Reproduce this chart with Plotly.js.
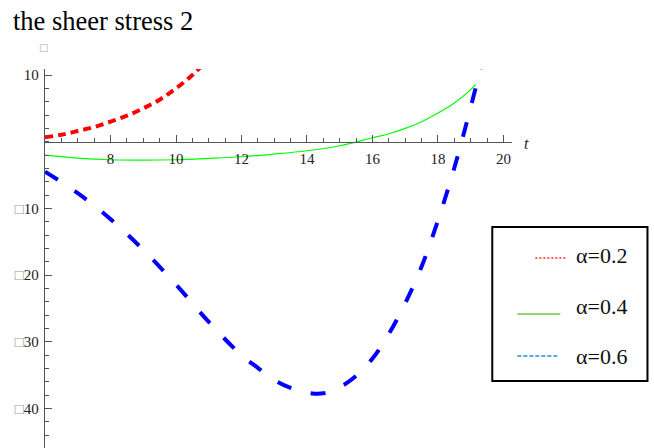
<!DOCTYPE html>
<html>
<head>
<meta charset="utf-8">
<script src="https://cdn.plot.ly/plotly-3.0.1.min.js"></script>
<style>html,body{margin:0;padding:0;background:#fff;}#chart{width:654px;height:448px;}</style>
</head>
<body>
<div id="chart"></div>
<script>
// ---- data ----
const seriesNames = ["α=0.2", "α=0.4", "α=0.6"];

const tRed = [6, 6.5, 7, 7.5, 8, 8.5, 9, 9.5, 10, 10.5, 11];
const yRed = [0.65, 1.05, 1.6, 2.2, 3.0, 3.9, 5.0, 6.3, 8.0, 10.0, 12.5];

const tGreen = [6, 7, 8, 9, 10, 11, 12, 13, 14, 15, 16, 16.5, 17, 17.5, 18, 18.5, 19, 19.15];
const yGreen = [-2.0, -2.45, -2.7, -2.77, -2.7, -2.5, -2.25, -1.85, -1.35, -0.6, 0.6, 1.2, 2.0, 3.0, 4.3, 5.8, 7.8, 8.6];

const tBlue = [6, 7, 8, 9, 10, 11, 12, 12.5, 13, 13.5, 14, 14.5, 15, 15.5, 16, 16.5, 17, 17.5, 18, 18.5, 19, 19.35];
const yBlue = [-4.5, -7.7, -11.6, -16.2, -21.4, -27.0, -32.0, -33.9, -35.7, -36.9, -37.6, -37.7, -36.8, -35.1, -32.5, -28.8, -24.2, -18.7, -11.8, -3.9, 5.2, 12.0];

const xTickVals = [8, 10, 12, 14, 16, 18, 20];
const xTickText = ["8", "10", "12", "14", "16", "18", "20"];
const yTickVals = [10, -10, -20, -30, -40];
const yTickText = ["10", "<span style='color:#999'>□</span>10", "<span style='color:#999'>□</span>20", "<span style='color:#999'>□</span>30", "<span style='color:#999'>□</span>40"];

// ---- layout geometry ----
const W = 654, H = 448;
const L = 45.3, R = 511.7, T = 69, B = 448;
const xRange = [6, 20.26];
const yRange = [-45.9, 10.9];
const px = x => (x - L) / (R - L);
const py = y => (B - y) / (B - T);

const serif = "Liberation Serif";
const axisCol = "#555555";

const traces = [
  {x: tRed, y: yRed, name: seriesNames[0], mode: "lines", line: {color: "#ff0000", width: 4, dash: "8px,5px", shape: "spline"}, showlegend: false},
  {x: tGreen, y: yGreen, name: seriesNames[1], mode: "lines", line: {color: "#00ff00", width: 1.2, shape: "spline"}, showlegend: false},
  {x: tBlue, y: yBlue, name: seriesNames[2], mode: "lines", line: {color: "#0000ff", width: 4, dash: "15px,20px", shape: "spline"}, showlegend: false}
];

const legendSamples = [
  {x0: 535, x1: 567, y: 258, color: "#ff2020", dash: "2px,2px", width: 1.3},
  {x0: 517, x1: 560, y: 314, color: "#70c838", dash: "solid", width: 1.3},
  {x0: 517, x1: 557, y: 356, color: "#2a88d8", dash: "4px,2px", width: 1.3}
];
const legendTextY = [255, 306, 356];

const shapes = [
  {type: "rect", xref: "paper", yref: "paper", x0: px(492), x1: px(647), y0: py(227), y1: py(381),
   line: {color: "#000", width: 2}, fillcolor: "rgba(255,255,255,1)", layer: "above"}
];
legendSamples.forEach(s => shapes.push({type: "line", xref: "paper", yref: "paper",
  x0: px(s.x0), x1: px(s.x1), y0: py(s.y), y1: py(s.y), line: {color: s.color, width: s.width, dash: s.dash}, layer: "above"}));

const annotations = seriesNames.map((n, i) => ({
  text: n, xref: "paper", yref: "paper", x: px(574), y: py(legendTextY[i]), xanchor: "left", yanchor: "middle",
  showarrow: false, font: {family: serif, size: 22, color: "#111"}
}));
annotations.push({text: "t", xref: "paper", yref: "paper", x: px(522), y: py(143), xanchor: "left", yanchor: "middle",
  showarrow: false, font: {family: serif, size: 16, color: "#222", style: "italic"}});
annotations.push({text: "□", xref: "paper", yref: "paper", x: px(44), y: py(47), xanchor: "center", yanchor: "middle",
  showarrow: false, font: {family: "DejaVu Sans", size: 10, color: "#aaa"}});

const layout = {
  width: W, height: H,
  margin: {l: L, r: W - R, t: T, b: H - B, pad: 0},
  paper_bgcolor: "#fff", plot_bgcolor: "#fff",
  showlegend: false,
  font: {family: serif},
  title: {text: "the sheer stress 2", x: 13 / W, xref: "container", xanchor: "left", y: 1 - 11 / H, yref: "container", yanchor: "top",
    font: {family: serif, size: 26.5, color: "#000"}},
  xaxis: {
    range: xRange, anchor: "free", position: (0 - yRange[0]) / (yRange[1] - yRange[0]),
    showline: true, linecolor: axisCol, linewidth: 1.3, showgrid: false, zeroline: false,
    tickmode: "array", tickvals: xTickVals, ticktext: xTickText,
    ticks: "inside", ticklen: 7, tickwidth: 1, tickcolor: axisCol,
    minor: {tickmode: "linear", tick0: 0, dtick: 0.5, ticks: "inside", ticklen: 4, tickwidth: 1, tickcolor: axisCol},
    tickfont: {family: serif, size: 15, color: "#222"}, ticklabelstandoff: 3
  },
  yaxis: {
    range: yRange, showline: true, linecolor: axisCol, linewidth: 1.3, showgrid: false, zeroline: false,
    tickmode: "array", tickvals: yTickVals, ticktext: yTickText,
    ticks: "inside", ticklen: 7, tickwidth: 1, tickcolor: axisCol,
    minor: {tickmode: "linear", tick0: 0, dtick: 2, ticks: "inside", ticklen: 4, tickwidth: 1, tickcolor: axisCol},
    tickfont: {family: serif, size: 15, color: "#222"}, ticklabelstandoff: 2
  },
  shapes: shapes,
  annotations: annotations
};

Plotly.newPlot("chart", traces, layout, {displayModeBar: false, staticPlot: true});
</script>
</body>
</html>
